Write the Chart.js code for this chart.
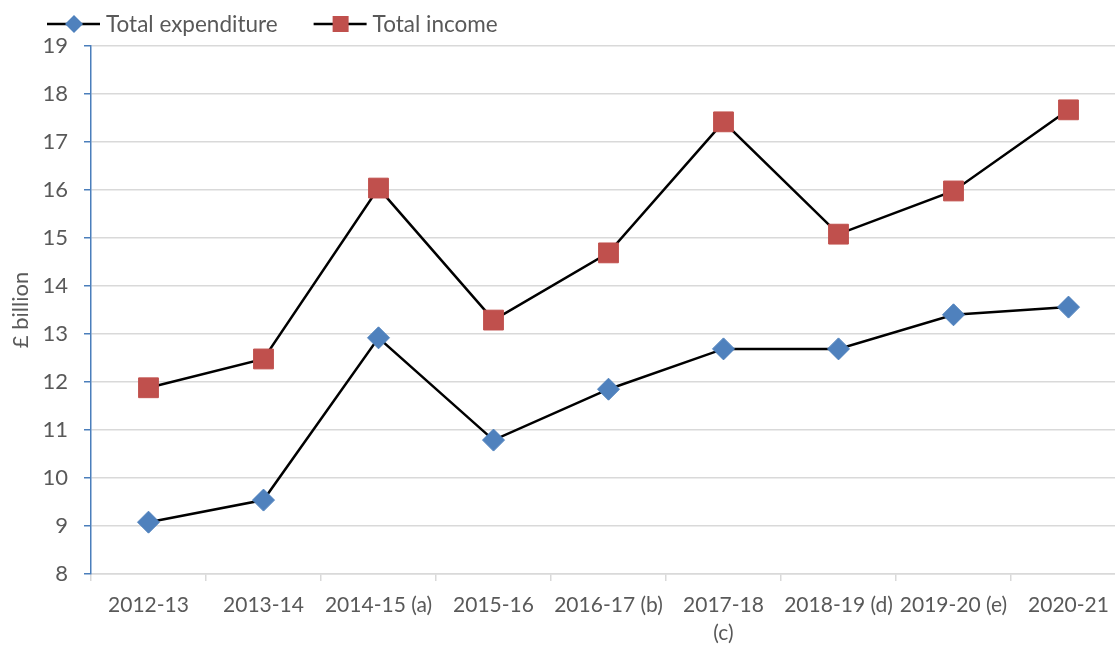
<!DOCTYPE html>
<html>
<head>
<meta charset="utf-8">
<script src="https://cdn.jsdelivr.net/npm/chart.js@4.4.1/dist/chart.umd.min.js"></script>
<style>
  html, body { margin: 0; padding: 0; background: #fff; overflow: hidden; }
</style>
</head>
<body>
<!-- canvas a bit wider than the window: the original plot is cut at the right edge -->
<canvas id="chart" width="1126" height="646"></canvas>
<script>
const categories = [
  '2012-13', '2013-14', '2014-15 (a)', '2015-16', '2016-17 (b)',
  ['2017-18', '(c)'], '2018-19 (d)', '2019-20 (e)', '2020-21',
];
const expenditure = [9.08, 9.54, 12.92, 10.79, 11.85, 12.69, 12.69, 13.40, 13.56];
const income = [11.88, 12.48, 16.04, 13.29, 14.69, 17.42, 15.08, 15.98, 17.67];
const yMin = 8;
const yMax = 19;
const yStep = 1;

const FONT = 'Lato';
const TEXT = '#595959';
const BLUE = '#4F81BD';
const RED = '#C0504D';

// legend drawn as line + marker, like the spreadsheet one
const lineLegend = {
  id: 'lineLegend',
  afterDraw(chart) {
    const ctx = chart.ctx;
    ctx.save();
    ctx.font = `22.5px ${FONT}`;
    ctx.textBaseline = 'middle';
    let x = 47;
    const y = 24;
    chart.data.datasets.forEach((ds) => {
      ctx.strokeStyle = '#000';
      ctx.lineWidth = 2.5;
      ctx.beginPath();
      ctx.moveTo(x, y);
      ctx.lineTo(x + 53, y);
      ctx.stroke();
      const cx = x + 27;
      ctx.fillStyle = ds.pointBackgroundColor;
      ctx.beginPath();
      if (ds.pointStyle === 'rectRot') {
        ctx.moveTo(cx - 9, y);
        ctx.lineTo(cx, y - 9);
        ctx.lineTo(cx + 9, y);
        ctx.lineTo(cx, y + 9);
        ctx.closePath();
      } else {
        ctx.rect(cx - 8, y - 8, 16, 16);
      }
      ctx.fill();
      ctx.fillStyle = TEXT;
      ctx.fillText(ds.label, x + 59, y + 1);
      x += 59 + ctx.measureText(ds.label).width + 36;
    });
    ctx.restore();
  },
};

new Chart(document.getElementById('chart'), {
  type: 'line',
  data: {
    labels: categories,
    datasets: [
      {
        label: 'Total expenditure',
        data: expenditure,
        borderColor: '#000',
        borderWidth: 2.5,
        pointStyle: 'rectRot',
        pointRadius: 11,
        pointBorderWidth: 1,
        pointBackgroundColor: BLUE,
        pointBorderColor: BLUE,
        tension: 0,
      },
      {
        label: 'Total income',
        data: income,
        borderColor: '#000',
        borderWidth: 2.5,
        pointStyle: 'rect',
        pointRadius: 14,
        pointBorderWidth: 1,
        pointBackgroundColor: RED,
        pointBorderColor: RED,
        tension: 0,
      },
    ],
  },
  options: {
    responsive: false,
    animation: false,
    devicePixelRatio: 1,
    layout: {
      autoPadding: false,
      padding: { top: 46, left: 0, right: 0, bottom: 0 },
    },
    plugins: {
      legend: { display: false },
      tooltip: { enabled: false },
    },
    scales: {
      x: {
        offset: true,
        grid: {
          offset: true,
          drawOnChartArea: false,
          color: '#d9d9d9',
          tickLength: 7,
          lineWidth: 1.5,
        },
        border: { color: '#d9d9d9', width: 1.5 },
        ticks: {
          color: TEXT,
          font: { family: FONT, size: 21, lineHeight: 1.35 },
          maxRotation: 0,
          autoSkip: false,
          padding: 10,
        },
        afterFit(scale) {
          scale.height = 72;
          scale.paddingLeft = 0;
          scale.paddingRight = 0;
        },
      },
      y: {
        min: yMin,
        max: yMax,
        ticks: {
          stepSize: yStep,
          color: TEXT,
          font: { family: FONT, size: 22 },
          padding: 16,
        },
        grid: {
          color: '#d9d9d9',
          lineWidth: 1.5,
          tickColor: '#4a7ebb',
          tickLength: 7,
        },
        border: { color: '#4a7ebb', width: 1.5 },
        title: {
          display: true,
          text: '£ billion',
          color: TEXT,
          font: { family: FONT, size: 22 },
          padding: { top: 8, bottom: 0 },
        },
        afterFit(scale) {
          scale.width = 91;
        },
      },
    },
  },
  plugins: [lineLegend],
});
</script>
</body>
</html>
